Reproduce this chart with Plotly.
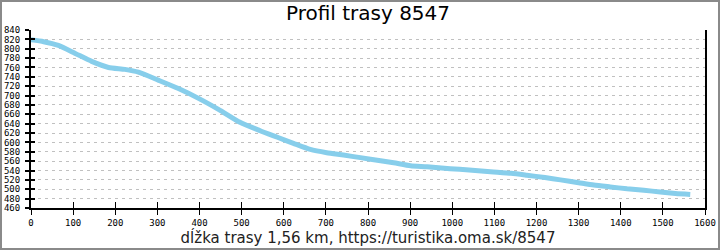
import plotly.graph_objects as go

dist_m = [0, 30, 65, 105, 144, 184, 223, 255, 302, 350, 400, 450, 496, 544, 585, 623,
          663, 702, 742, 782, 822, 861, 901, 940, 995, 1040, 1098, 1140, 1177, 1220,
          1257, 1300, 1336, 1375, 1415, 1455, 1494, 1530, 1565]
elev_m = [819, 815, 807, 790, 773, 760, 756, 750, 733, 715, 693, 668, 643, 625, 611, 598,
          585, 578, 573, 567.5, 562, 556.5, 550, 548, 544, 541, 537, 534, 530, 525,
          520, 514, 509, 505, 501, 498, 494, 491, 489]

title_text = "Profil trasy 8547"
xlabel_text = "dĺžka trasy 1,56 km, https://turistika.oma.sk/8547"
x_ticks = list(range(0, 1601, 100))
y_ticks = list(range(460, 841, 20))

W, H = 720, 250
ML, MR, MT, MB = 31, 15, 30, 42
pw, ph = W - ML - MR, H - MT - MB

fig = go.Figure()
fig.add_trace(go.Scatter(x=dist_m, y=elev_m, mode="lines",
                         line=dict(color="#87CEEB", width=5, shape="spline",
                                   smoothing=0.6),
                         hoverinfo="skip", showlegend=False))
# invisible trace for overlay axes (inner half of cross ticks)
fig.add_trace(go.Scatter(x=[dist_m[0]], y=[elev_m[0]], xaxis="x2", yaxis="y2",
                         mode="markers", marker=dict(opacity=0), showlegend=False,
                         hoverinfo="skip"))

tickfont = dict(family="DejaVu Sans Mono", size=9, color="#000")
fig.update_layout(
    width=W, height=H,
    margin=dict(l=ML, r=MR, t=MT, b=MB),
    paper_bgcolor="white", plot_bgcolor="white",
    title=dict(text=title_text, x=0.5, xref="paper", xanchor="center",
               y=1 - 13 / H, yanchor="middle",
               font=dict(family="DejaVu Sans", size=20, color="#000")),
    xaxis=dict(range=[0, 1600], tickvals=x_ticks, ticks="outside", ticklen=5,
               tickwidth=1, tickcolor="#000", showline=True, linecolor="#000",
               linewidth=2, showgrid=False, zeroline=False, tickfont=tickfont,
               automargin=False,
               title=dict(text=xlabel_text, standoff=6,
                          font=dict(family="DejaVu Sans", size=15, color="#222"))),
    yaxis=dict(range=[460, 840], tickvals=y_ticks, ticks="outside", ticklen=4,
               tickwidth=2, tickcolor="#000", showline=True, linecolor="#000",
               linewidth=2, mirror=True, showgrid=True, gridcolor="#c0c0c0",
               griddash="3px,4px", gridwidth=1, zeroline=False, tickfont=tickfont,
               ticklabelstandoff=3, automargin=False),
    xaxis2=dict(overlaying="x", range=[0, 1600], tickvals=x_ticks, ticks="inside",
                ticklen=6, tickwidth=1, tickcolor="#000", showticklabels=False,
                showgrid=False, zeroline=False, side="bottom", anchor="y2",
                automargin=False),
    yaxis2=dict(overlaying="y", range=[460, 840], tickvals=y_ticks, ticks="inside",
                ticklen=4, tickwidth=2, tickcolor="#000", showticklabels=False,
                showgrid=False, zeroline=False, side="left", anchor="x2",
                automargin=False),
    shapes=[dict(type="rect", xref="paper", yref="paper",
                 x0=-(ML - 1) / pw, x1=1 + (MR - 1) / pw,
                 y0=-(MB - 1) / ph, y1=1 + (MT - 1) / ph,
                 line=dict(color="#8a8a8a", width=2), layer="above")],
)

fig.write_html("out.html")
